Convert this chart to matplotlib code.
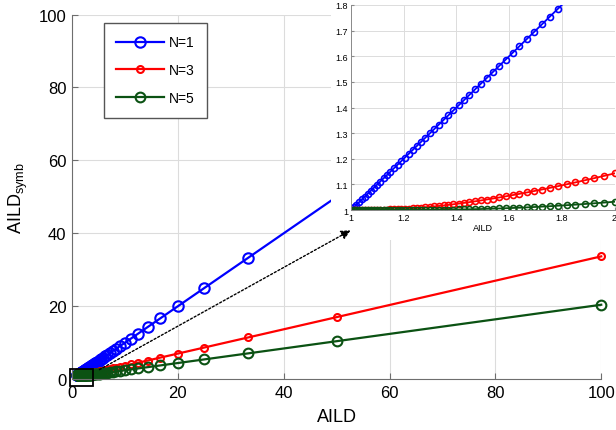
import matplotlib
matplotlib.use('Agg')
import matplotlib.pyplot as plt
from matplotlib.patches import Rectangle, FancyArrowPatch
from matplotlib.ticker import FormatStrFormatter

plt.rcParams['font.family'] = ['Liberation Sans', 'DejaVu Sans']
plt.rcParams['mathtext.default'] = 'regular'

# AILD values (x)
aild = [100, 50, 33.333, 25, 20, 16.667, 14.286, 12.5, 11.111, 10,
        9.091, 8.333, 7.692, 7.143, 6.667, 6.25, 5.882, 5.556, 5.263, 5,
        4.762, 4.545, 4.348, 4.167, 4, 3.846, 3.704, 3.571, 3.448, 3.333,
        3.226, 3.125, 3.030, 2.941, 2.857, 2.778, 2.703, 2.632, 2.564, 2.5,
        2.439, 2.381, 2.326, 2.273, 2.222, 2.174, 2.128, 2.083, 2.041, 2.0,
        1.9608, 1.9231, 1.8868, 1.8519, 1.8182, 1.7857, 1.7544, 1.7241, 1.6949, 1.6667,
        1.6393, 1.6129, 1.5873, 1.5625, 1.5385, 1.5152, 1.4925, 1.4706, 1.4493, 1.4286,
        1.4085, 1.3889, 1.3699, 1.3514, 1.3333, 1.3158, 1.2987, 1.2821, 1.2658, 1.25,
        1.2346, 1.2195, 1.2048, 1.1905, 1.1765, 1.1628, 1.1494, 1.1364, 1.1236, 1.1111,
        1.0989, 1.0870, 1.0753, 1.0638, 1.0526, 1.0417, 1.0309, 1.0204, 1.0101, 1.0]

# N=1 follows the diagonal
symb_n1 = list(aild)

symb_n3 = [33.668, 17.004, 11.451, 8.676, 7.011, 5.903, 5.111, 4.518, 4.058, 3.690,
           3.389, 3.139, 2.928, 2.748, 2.592, 2.455, 2.335, 2.229, 2.134, 2.049,
           1.973, 1.903, 1.840, 1.782, 1.730, 1.681, 1.637, 1.596, 1.557, 1.522,
           1.489, 1.459, 1.430, 1.404, 1.379, 1.355, 1.333, 1.313, 1.294, 1.276,
           1.258, 1.242, 1.227, 1.213, 1.200, 1.187, 1.175, 1.164, 1.153, 1.1429,
           1.1333, 1.1243, 1.1159, 1.1078, 1.1003, 1.0931, 1.0864, 1.0800, 1.0740, 1.0684,
           1.0631, 1.0581, 1.0534, 1.0489, 1.0448, 1.0409, 1.0373, 1.0339, 1.0307, 1.0278,
           1.0250, 1.0225, 1.0201, 1.0179, 1.0159, 1.0140, 1.0123, 1.0108, 1.0094, 1.0081,
           1.0069, 1.0059, 1.0049, 1.0041, 1.0034, 1.0028, 1.0022, 1.0017, 1.0013, 1.0010,
           1.0007, 1.0005, 1.0003, 1.0002, 1.0001, 1.0001, 1.0, 1.0, 1.0, 1.0]

symb_n5 = [20.404, 10.408, 7.079, 5.416, 4.420, 3.758, 3.286, 2.933, 2.660, 2.442,
           2.265, 2.117, 1.994, 1.888, 1.798, 1.719, 1.650, 1.589, 1.535, 1.487,
           1.444, 1.406, 1.371, 1.340, 1.311, 1.285, 1.262, 1.240, 1.220, 1.202,
           1.185, 1.170, 1.156, 1.143, 1.131, 1.120, 1.110, 1.101, 1.092, 1.084,
           1.077, 1.070, 1.064, 1.058, 1.053, 1.048, 1.044, 1.040, 1.036, 1.0323,
           1.0291, 1.0262, 1.0235, 1.0210, 1.0188, 1.0168, 1.0149, 1.0132, 1.0117, 1.0103,
           1.0091, 1.0080, 1.0070, 1.0061, 1.0053, 1.0046, 1.0039, 1.0034, 1.0029, 1.0024,
           1.0021, 1.0017, 1.0014, 1.0012, 1.0010, 1.0008, 1.0006, 1.0005, 1.0004, 1.0003,
           1.0002, 1.0002, 1.0001, 1.0001, 1.0001, 1.0, 1.0, 1.0, 1.0, 1.0,
           1.0, 1.0, 1.0, 1.0, 1.0, 1.0, 1.0, 1.0, 1.0, 1.0]

labels = ['N=1', 'N=3', 'N=5']
colors = ['#0000ff', '#ff0000', '#0b5213']
main_ms = [7.5, 5, 7]
series = [symb_n1, symb_n3, symb_n5]

fig = plt.figure(figsize=(6.16, 4.31), dpi=100)
ax = fig.add_axes([0.117, 0.118, 0.859, 0.846])

for ys, c, ms, lab in zip(series, colors, main_ms, labels):
    ax.plot(aild, ys, '-o', color=c, mfc='none', mec=c, ms=ms, mew=1.5, lw=1.6,
            label=lab, clip_on=False)

ax.set_xlim(0, 100)
ax.set_ylim(0, 100)
ax.set_xticks(range(0, 101, 20))
ax.set_yticks(range(0, 101, 20))
ax.grid(True, color='#dcdcdc', lw=0.8)
ax.set_axisbelow(True)
for s in ['top', 'right']:
    ax.spines[s].set_visible(False)
for s in ['left', 'bottom']:
    ax.spines[s].set_color('#6e6e6e')
ax.tick_params(direction='in', length=4, color='#6e6e6e', labelsize=12, pad=4)
ax.set_xlabel('AILD', fontsize=13, labelpad=6)
ax.set_ylabel(r'AILD$_{symb}$', fontsize=13, labelpad=6)

leg = ax.legend(loc='upper left', bbox_to_anchor=(0.06, 0.977), borderaxespad=0,
                fontsize=10, handlelength=3.4, labelspacing=1.0, fancybox=False,
                framealpha=1, edgecolor='#555555', borderpad=0.9, handletextpad=0.4)
leg.get_frame().set_linewidth(1.0)

# zoom box near the origin
ax.add_patch(Rectangle((-0.4, -1.9), 4.4, 4.6, fill=False, ec='black', lw=1.3,
                       clip_on=False, zorder=5))

# white area behind the inset
fig.add_artist(Rectangle((0.537, 0.441), 0.463, 0.559, transform=fig.transFigure,
                         fc='white', ec='none', zorder=1))

axin = fig.add_axes([0.5698, 0.5104, 0.4278, 0.4757])
axin.set_zorder(2)
for ys, c in zip(series, colors):
    axin.plot(aild, ys, '-o', color=c, mfc='none', mec=c, ms=4.3, mew=1.2, lw=1.3)
axin.set_xlim(1, 2)
axin.set_ylim(1, 1.8)
axin.set_xticks([1, 1.2, 1.4, 1.6, 1.8, 2])
axin.set_yticks([1, 1.1, 1.2, 1.3, 1.4, 1.5, 1.6, 1.7, 1.8])
axin.xaxis.set_major_formatter(FormatStrFormatter('%g'))
axin.yaxis.set_major_formatter(FormatStrFormatter('%g'))
axin.grid(True, color='#dcdcdc', lw=0.7)
axin.set_axisbelow(True)
for s in ['top', 'right']:
    axin.spines[s].set_visible(False)
for s in ['left', 'bottom']:
    axin.spines[s].set_color('#8a8a8a')
    axin.spines[s].set_linewidth(0.7)
axin.tick_params(direction='in', length=2, color='#8a8a8a', labelsize=6.5, pad=2)
axin.set_xlabel('AILD', fontsize=6.5, labelpad=1)

# dotted arrow from the zoom box to the inset
arrow = FancyArrowPatch((97 / 616, 1 - 372 / 431), (353 / 616, 1 - 230 / 431),
                        transform=fig.transFigure, arrowstyle='-|>', mutation_scale=14,
                        linestyle=(0, (1.5, 1.5)), lw=1.0, color='black', zorder=3)
fig.add_artist(arrow)

fig.savefig('out.png', dpi=100)
